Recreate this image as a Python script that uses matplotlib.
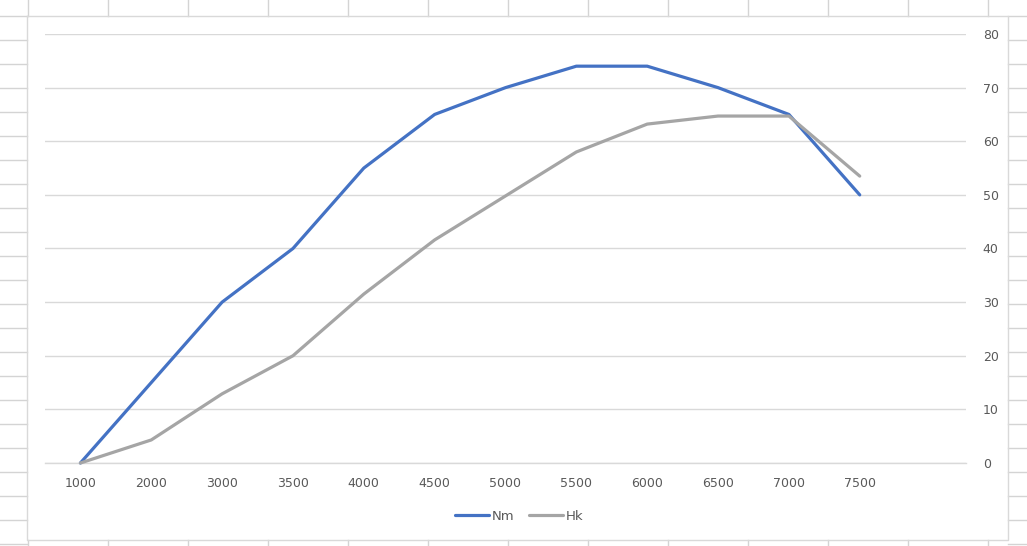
import matplotlib.pyplot as plt
from matplotlib.lines import Line2D

# engine speed categories and series
rpm = ["1000", "2000", "3000", "3500", "4000", "4500", "5000",
       "5500", "6000", "6500", "7000", "7500", ""]
nm = [0, 15, 30, 40, 55, 65, 70, 74, 74, 70, 65, 50]
hk = [0, 4.3, 12.9, 20, 31.5, 41.6, 49.8, 58, 63.2, 64.7, 64.7, 53.5]

BLUE = "#4472C4"
GREY = "#A5A5A5"
GRID = "#D9D9D9"
TXT = "#595959"

W, H = 1027, 546
fig = plt.figure(figsize=(W / 100, H / 100), dpi=100)
fig.patch.set_facecolor("white")


def px(x, y):
    return x / W, 1 - y / H


# spreadsheet cell lines around the chart object
cell = "#D4D4D4"
for x in range(28, W, 80):
    fig.add_artist(Line2D([px(x, 0)[0]] * 2, [px(0, 0)[1], px(0, 16)[1]], color=cell, lw=1))
    fig.add_artist(Line2D([px(x, 0)[0]] * 2, [px(0, 540)[1], px(0, 546)[1]], color=cell, lw=1))
for y in range(16, H, 24):
    fig.add_artist(Line2D([0, px(27, 0)[0]], [px(0, y)[1]] * 2, color=cell, lw=1))
    fig.add_artist(Line2D([px(1008, 0)[0], 1], [px(0, y)[1]] * 2, color=cell, lw=1))
# chart area border
bx = [27, 1008, 1008, 27, 27]
by = [16, 16, 540, 540, 16]
fig.add_artist(Line2D([px(x, 0)[0] for x in bx], [px(0, y)[1] for y in by], color=GRID, lw=1))

left, right = px(45, 0)[0], px(966, 0)[0]
bottom, top = px(0, 463)[1], px(0, 34)[1]
ax = fig.add_axes([left, bottom, right - left, top - bottom])

x = list(range(len(nm)))
ax.plot(x, nm, color=BLUE, lw=2.3, solid_joinstyle="round", solid_capstyle="round", label="Nm",
        clip_on=False, zorder=3)
ax.plot(x, hk, color=GREY, lw=2.3, solid_joinstyle="round", solid_capstyle="round", label="Hk",
        clip_on=False, zorder=3)

ax.set_xlim(-0.5, len(rpm) - 0.5)
ax.set_ylim(0, 80)
ax.set_xticks(range(len(rpm)))
ax.set_xticklabels(rpm)
ax.set_yticks(range(0, 81, 10))
ax.yaxis.tick_right()
ax.tick_params(axis="both", length=0, labelsize=9, labelcolor=TXT)
ax.tick_params(axis="x", pad=10)
ax.tick_params(axis="y", pad=12)
ax.grid(axis="y", color=GRID, lw=1)
ax.axhline(0, color=GRID, lw=1, clip_on=False, zorder=1)
ax.set_axisbelow(True)
for s in ax.spines.values():
    s.set_visible(False)

fig.legend(loc="center", bbox_to_anchor=(px(519, 0)[0], px(0, 516)[1]), ncol=2,
           frameon=False, fontsize=9.5, labelcolor=TXT, handlelength=2.6,
           handletextpad=0.2, columnspacing=1.1)

fig.savefig("out.png", dpi=100, facecolor="white")
